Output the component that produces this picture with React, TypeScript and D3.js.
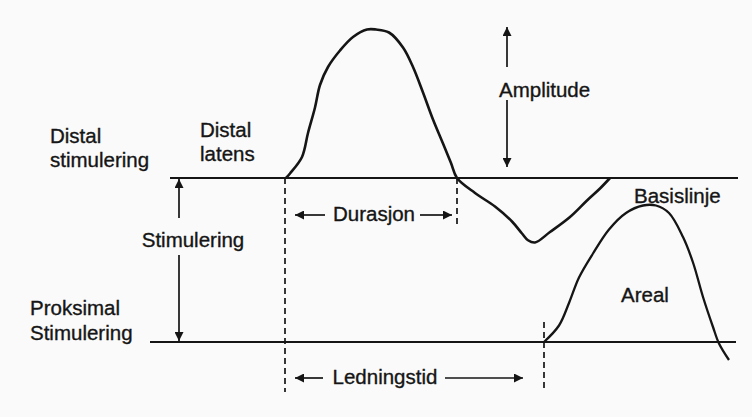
import React, { useEffect, useRef } from 'react';
import * as d3 from 'd3';

// Nerve conduction diagram: two compound action potentials
// (distal and proximal stimulation), time in ms, amplitude in mV

const distalTime = [6.8, 7.0, 7.6, 7.9, 8.25, 8.5, 8.9, 9.5, 10.15, 10.85, 11.3, 11.95, 12.65, 13.15, 13.65, 14.15, 14.65, 15.05, 15.35, 16.25, 17.25, 18.1, 18.6, 18.9, 19.25, 20.0, 21.0, 21.85, 22.5, 23.0];
const distalAmp = [0, 0.3, 1.4, 3.0, 4.7, 6.2, 7.4, 8.5, 9.4, 9.9, 9.9, 9.7, 8.7, 7.4, 5.7, 3.9, 2.3, 1.0, 0, -1.0, -1.9, -2.9, -3.7, -4.15, -4.3, -3.6, -2.6, -1.5, -0.7, 0];

const proximalTime = [19.7, 20.45, 20.95, 21.45, 22.15, 22.95, 23.8, 24.65, 25.3, 25.95, 26.65, 27.15, 27.65, 28.15, 28.45, 28.95];
const proximalAmp = [0, 1.1, 2.6, 4.3, 5.9, 7.5, 8.6, 9.1, 9.1, 8.6, 7.0, 5.3, 3.0, 1.0, -0.1, -1.2];

// baselines: [start, end] in ms
const distalBaseline = [1.0, 29.4];
const proximalBaseline = [0, 29.3];

// latencies (ms)
const distalLatency = 6.75;
const durationEnd = 15.35;
const proximalLatency = 19.7;
const stimulusTime = 1.45;
const amplitudeTime = 17.85;
const amplitudeMax = 10;

const labels = {
  distalStim: ['Distal', 'stimulering'],
  distalLat: ['Distal', 'latens'],
  proxStim: ['Proksimal', 'Stimulering'],
  stim: 'Stimulering',
  amplitude: 'Amplitude',
  duration: 'Durasjon',
  conduction: 'Ledningstid',
  baseline: 'Basislinje',
  area: 'Areal',
};

const W = 752;
const H = 417;
const INK = '#151515';
const FONT = '"Liberation Sans", Arial, sans-serif';

const App = () => {
  const svgRef = useRef(null);

  useEffect(() => {
    const svg = d3.select(svgRef.current);
    svg.selectAll('*').remove();

    const x = d3.scaleLinear().domain([0, 30]).range([150, 750]);
    const yTop = d3.scaleLinear().domain([0, 10]).range([178, 28]);
    const yBot = d3.scaleLinear().domain([0, 10]).range([342, 192]);

    svg.append('rect').attr('width', W).attr('height', H).attr('fill', '#fafafa');

    const defs = svg.append('defs');
    defs
      .append('marker')
      .attr('id', 'head')
      .attr('viewBox', '0 0 10 10')
      .attr('refX', 10)
      .attr('refY', 5)
      .attr('markerWidth', 12)
      .attr('markerHeight', 9)
      .attr('markerUnits', 'userSpaceOnUse')
      .attr('orient', 'auto')
      .append('path')
      .attr('d', 'M0,0 L10,5 L0,10 Z')
      .attr('fill', INK);

    // baselines
    svg
      .append('line')
      .attr('x1', x(distalBaseline[0]))
      .attr('x2', x(distalBaseline[1]))
      .attr('y1', yTop(0))
      .attr('y2', yTop(0))
      .attr('stroke', INK)
      .attr('stroke-width', 1.8);
    svg
      .append('line')
      .attr('x1', x(proximalBaseline[0]))
      .attr('x2', x(proximalBaseline[1]))
      .attr('y1', yBot(0))
      .attr('y2', yBot(0))
      .attr('stroke', INK)
      .attr('stroke-width', 1.8);

    // traces
    const lineTop = d3
      .line()
      .x((d) => x(d[0]))
      .y((d) => yTop(d[1]))
      .curve(d3.curveCatmullRom.alpha(0.5));
    const lineBot = d3
      .line()
      .x((d) => x(d[0]))
      .y((d) => yBot(d[1]))
      .curve(d3.curveCatmullRom.alpha(0.5));

    svg
      .append('path')
      .attr('d', lineTop(distalTime.map((t, i) => [t, distalAmp[i]])))
      .attr('fill', 'none')
      .attr('stroke', INK)
      .attr('stroke-width', 2.6)
      .attr('stroke-linejoin', 'round');
    svg
      .append('path')
      .attr('d', lineBot(proximalTime.map((t, i) => [t, proximalAmp[i]])))
      .attr('fill', 'none')
      .attr('stroke', INK)
      .attr('stroke-width', 2.3)
      .attr('stroke-linejoin', 'round');

    // dashed markers
    const dashed = (t, y1, y2) =>
      svg
        .append('line')
        .attr('x1', x(t))
        .attr('x2', x(t))
        .attr('y1', y1)
        .attr('y2', y2)
        .attr('stroke', INK)
        .attr('stroke-width', 1.7)
        .attr('stroke-dasharray', '6,4');
    dashed(distalLatency, yTop(0), 392);
    dashed(durationEnd, yTop(0), 227);
    dashed(proximalLatency, 322, 390);

    const arrow = (x1, y1, x2, y2) =>
      svg
        .append('line')
        .attr('x1', x1)
        .attr('y1', y1)
        .attr('x2', x2)
        .attr('y2', y2)
        .attr('stroke', INK)
        .attr('stroke-width', 1.7)
        .attr('marker-end', 'url(#head)');

    // stimulering arrow
    const sx = x(stimulusTime);
    arrow(sx, 218, sx, yTop(0) + 1);
    arrow(sx, 255, sx, yBot(0) - 1);

    // amplitude arrow
    const ax = x(amplitudeTime);
    arrow(ax, 67, ax, yTop(amplitudeMax) - 1);
    arrow(ax, 100, ax, yTop(0) - 11);

    // durasjon
    const dy = 215;
    arrow(x(distalLatency) + 40, dy, x(distalLatency) + 10, dy);
    arrow(x(durationEnd) - 37, dy, x(durationEnd) - 5, dy);

    // ledningstid
    const ly = 378;
    arrow(x(distalLatency) + 38, ly, x(distalLatency) + 10, ly);
    arrow(x(proximalLatency) - 99, ly, x(proximalLatency) - 21, ly);

    const text = (s, tx, ty, anchor = 'start') =>
      svg
        .append('text')
        .attr('x', tx)
        .attr('y', ty)
        .attr('text-anchor', anchor)
        .attr('font-family', FONT)
        .attr('font-size', 20.5)
        .attr('fill', INK)
        .attr('stroke', INK)
        .attr('stroke-width', 0.35)
        .text(s);

    text(labels.distalStim[0], 50, 143);
    text(labels.distalStim[1], 50, 167);
    text(labels.distalLat[0], 200, 137);
    text(labels.distalLat[1], 200, 161);
    text(labels.stim, 193, 247, 'middle');
    text(labels.proxStim[0], 30, 315);
    text(labels.proxStim[1], 30, 340);
    text(labels.amplitude, 499, 97);
    text(labels.duration, 374, 221, 'middle');
    text(labels.conduction, 385, 384, 'middle');
    text(labels.baseline, 634, 203);
    text(labels.area, 621, 302);
  }, []);

  return (
    <svg
      ref={svgRef}
      width={W}
      height={H}
      style={{ position: 'absolute', left: 0, top: 0, display: 'block' }}
    />
  );
};

export default App;
